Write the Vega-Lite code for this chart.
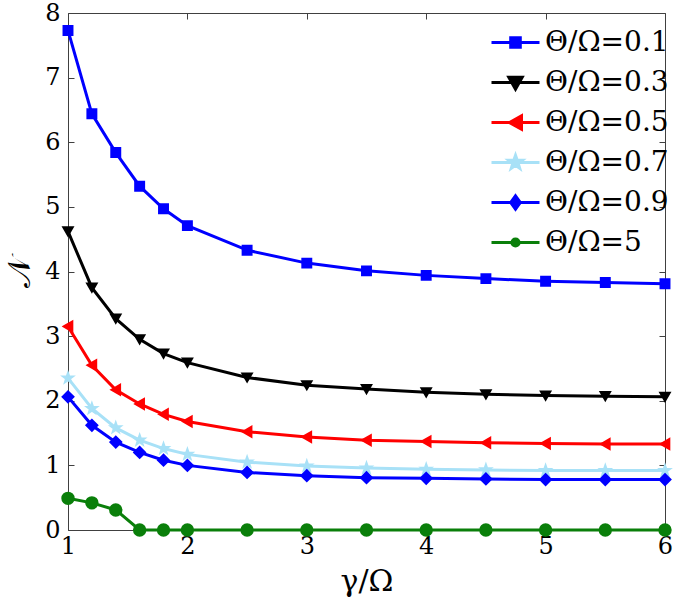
{
  "$schema": "https://vega.github.io/schema/vega-lite/v6.json",
  "width": 597,
  "height": 517,
  "autosize": "none",
  "padding": {"left": 68, "top": 13, "right": 10, "bottom": 74},
  "background": "white",
  "config": {
    "view": {"stroke": null},
    "font": "DejaVu Serif",
    "axis": {
      "domainColor": "#404040", "domainWidth": 1, "tickColor": "#404040", "tickSize": -6, "tickWidth": 1,
      "labelFont": "DejaVu Serif", "labelFontSize": 24, "labelColor": "black",
      "titleFont": "DejaVu Serif", "titleFontSize": 30, "titleColor": "black", "titleFontWeight": "normal",
      "grid": false
    },
    "legend": {
      "labelFont": "DejaVu Serif", "labelFontSize": 28, "labelColor": "black"
    }
  },
  "data": {"values": [
    {"x":1,"N":7.73,"s":"Θ/Ω=0.1"},{"x":1.2,"N":6.44,"s":"Θ/Ω=0.1"},{"x":1.4,"N":5.84,"s":"Θ/Ω=0.1"},{"x":1.6,"N":5.32,"s":"Θ/Ω=0.1"},{"x":1.8,"N":4.97,"s":"Θ/Ω=0.1"},{"x":2,"N":4.71,"s":"Θ/Ω=0.1"},{"x":2.5,"N":4.33,"s":"Θ/Ω=0.1"},{"x":3,"N":4.13,"s":"Θ/Ω=0.1"},{"x":3.5,"N":4.01,"s":"Θ/Ω=0.1"},{"x":4,"N":3.94,"s":"Θ/Ω=0.1"},{"x":4.5,"N":3.89,"s":"Θ/Ω=0.1"},{"x":5,"N":3.85,"s":"Θ/Ω=0.1"},{"x":5.5,"N":3.83,"s":"Θ/Ω=0.1"},{"x":6,"N":3.81,"s":"Θ/Ω=0.1"},
    {"x":1,"N":4.62,"s":"Θ/Ω=0.3"},{"x":1.2,"N":3.75,"s":"Θ/Ω=0.3"},{"x":1.4,"N":3.27,"s":"Θ/Ω=0.3"},{"x":1.6,"N":2.95,"s":"Θ/Ω=0.3"},{"x":1.8,"N":2.73,"s":"Θ/Ω=0.3"},{"x":2,"N":2.59,"s":"Θ/Ω=0.3"},{"x":2.5,"N":2.36,"s":"Θ/Ω=0.3"},{"x":3,"N":2.24,"s":"Θ/Ω=0.3"},{"x":3.5,"N":2.18,"s":"Θ/Ω=0.3"},{"x":4,"N":2.13,"s":"Θ/Ω=0.3"},{"x":4.5,"N":2.1,"s":"Θ/Ω=0.3"},{"x":5,"N":2.08,"s":"Θ/Ω=0.3"},{"x":5.5,"N":2.07,"s":"Θ/Ω=0.3"},{"x":6,"N":2.06,"s":"Θ/Ω=0.3"},
    {"x":1,"N":3.15,"s":"Θ/Ω=0.5"},{"x":1.2,"N":2.55,"s":"Θ/Ω=0.5"},{"x":1.4,"N":2.17,"s":"Θ/Ω=0.5"},{"x":1.6,"N":1.95,"s":"Θ/Ω=0.5"},{"x":1.8,"N":1.79,"s":"Θ/Ω=0.5"},{"x":2,"N":1.68,"s":"Θ/Ω=0.5"},{"x":2.5,"N":1.52,"s":"Θ/Ω=0.5"},{"x":3,"N":1.44,"s":"Θ/Ω=0.5"},{"x":3.5,"N":1.39,"s":"Θ/Ω=0.5"},{"x":4,"N":1.37,"s":"Θ/Ω=0.5"},{"x":4.5,"N":1.35,"s":"Θ/Ω=0.5"},{"x":5,"N":1.34,"s":"Θ/Ω=0.5"},{"x":5.5,"N":1.33,"s":"Θ/Ω=0.5"},{"x":6,"N":1.33,"s":"Θ/Ω=0.5"},
    {"x":1,"N":2.35,"s":"Θ/Ω=0.7"},{"x":1.2,"N":1.88,"s":"Θ/Ω=0.7"},{"x":1.4,"N":1.58,"s":"Θ/Ω=0.7"},{"x":1.6,"N":1.39,"s":"Θ/Ω=0.7"},{"x":1.8,"N":1.26,"s":"Θ/Ω=0.7"},{"x":2,"N":1.17,"s":"Θ/Ω=0.7"},{"x":2.5,"N":1.05,"s":"Θ/Ω=0.7"},{"x":3,"N":0.99,"s":"Θ/Ω=0.7"},{"x":3.5,"N":0.96,"s":"Θ/Ω=0.7"},{"x":4,"N":0.94,"s":"Θ/Ω=0.7"},{"x":4.5,"N":0.93,"s":"Θ/Ω=0.7"},{"x":5,"N":0.92,"s":"Θ/Ω=0.7"},{"x":5.5,"N":0.92,"s":"Θ/Ω=0.7"},{"x":6,"N":0.92,"s":"Θ/Ω=0.7"},
    {"x":1,"N":2.06,"s":"Θ/Ω=0.9"},{"x":1.2,"N":1.62,"s":"Θ/Ω=0.9"},{"x":1.4,"N":1.36,"s":"Θ/Ω=0.9"},{"x":1.6,"N":1.2,"s":"Θ/Ω=0.9"},{"x":1.8,"N":1.08,"s":"Θ/Ω=0.9"},{"x":2,"N":1.0,"s":"Θ/Ω=0.9"},{"x":2.5,"N":0.89,"s":"Θ/Ω=0.9"},{"x":3,"N":0.84,"s":"Θ/Ω=0.9"},{"x":3.5,"N":0.81,"s":"Θ/Ω=0.9"},{"x":4,"N":0.8,"s":"Θ/Ω=0.9"},{"x":4.5,"N":0.79,"s":"Θ/Ω=0.9"},{"x":5,"N":0.78,"s":"Θ/Ω=0.9"},{"x":5.5,"N":0.78,"s":"Θ/Ω=0.9"},{"x":6,"N":0.78,"s":"Θ/Ω=0.9"},
    {"x":1,"N":0.49,"s":"Θ/Ω=5"},{"x":1.2,"N":0.42,"s":"Θ/Ω=5"},{"x":1.4,"N":0.31,"s":"Θ/Ω=5"},{"x":1.6,"N":0,"s":"Θ/Ω=5"},{"x":1.8,"N":0,"s":"Θ/Ω=5"},{"x":2,"N":0,"s":"Θ/Ω=5"},{"x":2.5,"N":0,"s":"Θ/Ω=5"},{"x":3,"N":0,"s":"Θ/Ω=5"},{"x":3.5,"N":0,"s":"Θ/Ω=5"},{"x":4,"N":0,"s":"Θ/Ω=5"},{"x":4.5,"N":0,"s":"Θ/Ω=5"},{"x":5,"N":0,"s":"Θ/Ω=5"},{"x":5.5,"N":0,"s":"Θ/Ω=5"},{"x":6,"N":0,"s":"Θ/Ω=5"}
  ]},
  "resolve": {
    "axis": {"x": "independent", "y": "independent"},
    "scale": {"color": "independent", "fill": "independent", "stroke": "independent", "shape": "independent", "size": "independent", "strokeWidth": "independent"},
    "legend": {"color": "independent", "fill": "independent", "stroke": "independent", "shape": "independent"}
  },
  "layer": [
    {
      "mark": {"type": "line", "clip": false},
      "encoding": {
        "x": {"field": "x", "type": "quantitative", "scale": {"domain": [1, 6], "nice": false, "zero": false},
              "axis": {"orient": "bottom", "values": [1,2,3,4,5,6], "title": "γ/Ω", "labelPadding": 10, "titlePadding": 8, "labelFlush": false}},
        "y": {"field": "N", "type": "quantitative", "scale": {"domain": [0, 8], "nice": false},
              "axis": {"orient": "left", "values": [0,1,2,3,4,5,6,7,8], "title": "𝒩", "titleFontSize": 32, "labelPadding": 14, "titlePadding": 8, "labelFlush": false}},
        "color": {"field": "s", "type": "nominal", "legend": null,
                  "scale": {"domain": ["Θ/Ω=0.1","Θ/Ω=0.3","Θ/Ω=0.5","Θ/Ω=0.7","Θ/Ω=0.9","Θ/Ω=5"],
                            "range": ["#0000ff","#000000","#ff0000","#a8e1f7","#0000ff","#0a7f0a"]}},
        "strokeWidth": {"field": "s", "type": "nominal", "legend": null,
                  "scale": {"domain": ["Θ/Ω=0.1","Θ/Ω=0.3","Θ/Ω=0.5","Θ/Ω=0.7","Θ/Ω=0.9","Θ/Ω=5"],
                            "range": [3,3,3,3,3,2.5]}},
        "order": {"field": "x", "type": "quantitative"}
      }
    },
    {
      "mark": {"type": "point", "filled": true, "opacity": 1, "strokeWidth": 2, "clip": false},
      "encoding": {
        "x": {"field": "x", "type": "quantitative", "scale": {"domain": [1, 6], "nice": false, "zero": false}, "axis": null},
        "y": {"field": "N", "type": "quantitative", "scale": {"domain": [0, 8], "nice": false}, "axis": null},
        "fill": {"field": "s", "type": "nominal", "legend": null,
                  "scale": {"domain": ["Θ/Ω=0.1","Θ/Ω=0.3","Θ/Ω=0.5","Θ/Ω=0.7","Θ/Ω=0.9","Θ/Ω=5"],
                            "range": ["#0000ff","#000000","#ff0000","#a8e1f7","#0000ff","#0a7f0a"]}},
        "stroke": {"field": "s", "type": "nominal", "legend": null,
                  "scale": {"domain": ["Θ/Ω=0.1","Θ/Ω=0.3","Θ/Ω=0.5","Θ/Ω=0.7","Θ/Ω=0.9","Θ/Ω=5"],
                            "range": ["#0000ff","#000000","#ff0000","#a8e1f7","#0000ff","#0a7f0a"]}},
        "shape": {"field": "s", "type": "nominal", "legend": null,
                  "scale": {"domain": ["Θ/Ω=0.1","Θ/Ω=0.3","Θ/Ω=0.5","Θ/Ω=0.7","Θ/Ω=0.9","Θ/Ω=5"],
                            "range": ["square","triangle-down","triangle-left","M0,-1L0.235,-0.324L0.951,-0.309L0.38,0.124L0.588,0.809L0,0.4L-0.588,0.809L-0.38,0.124L-0.951,-0.309L-0.235,-0.324Z","diamond","circle"]}},
        "size": {"field": "s", "type": "nominal", "legend": null,
                  "scale": {"domain": ["Θ/Ω=0.1","Θ/Ω=0.3","Θ/Ω=0.5","Θ/Ω=0.7","Θ/Ω=0.9","Θ/Ω=5"],
                            "range": [80,130,130,240,110,80]}}
      }
    },
    {
      "transform": [{"filter": "false"}],
      "mark": {"type": "point", "filled": true, "strokeWidth": 3, "opacity": 1},
      "encoding": {
        "fill": {"field": "s", "type": "nominal",
                  "scale": {"domain": ["Θ/Ω=0.1","Θ/Ω=0.3","Θ/Ω=0.5","Θ/Ω=0.7","Θ/Ω=0.9","Θ/Ω=5"],
                            "range": ["#0000ff","#000000","#ff0000","#a8e1f7","#0000ff","#0a7f0a"]},
                  "legend": {"orient": "none", "legendX": 422, "legendY": 4, "title": null, "padding": 0,
                             "symbolSize": 2304, "symbolStrokeWidth": 3, "symbolOpacity": 1, "labelOffset": 4, "rowPadding": -9,
                             "labelFont": "DejaVu Serif", "labelFontSize": 28, "labelColor": "black"}},
        "stroke": {"field": "s", "type": "nominal",
                  "scale": {"domain": ["Θ/Ω=0.1","Θ/Ω=0.3","Θ/Ω=0.5","Θ/Ω=0.7","Θ/Ω=0.9","Θ/Ω=5"],
                            "range": ["#0000ff","#000000","#ff0000","#a8e1f7","#0000ff","#0a7f0a"]},
                  "legend": {"orient": "none", "legendX": 422, "legendY": 4, "title": null, "padding": 0,
                             "symbolSize": 2304, "symbolStrokeWidth": 3, "symbolOpacity": 1, "labelOffset": 4, "rowPadding": -9,
                             "labelFont": "DejaVu Serif", "labelFontSize": 28, "labelColor": "black"}},
        "shape": {"field": "s", "type": "nominal",
                  "scale": {"domain": ["Θ/Ω=0.1","Θ/Ω=0.3","Θ/Ω=0.5","Θ/Ω=0.7","Θ/Ω=0.9","Θ/Ω=5"],
                            "range": [
                              "M-1,0H1M-0.2,-0.2H0.2V0.2H-0.2Z",
                              "M-1,0H1M-0.28,-0.22L0.28,-0.22L0,0.28Z",
                              "M-1,0H1M-0.25,0L0.25,-0.28L0.25,0.28Z",
                              "M-1,0H1M0,-0.3L0.07,-0.097L0.285,-0.093L0.114,0.037L0.176,0.243L0,0.12L-0.176,0.243L-0.114,0.037L-0.285,-0.093L-0.07,-0.097Z",
                              "M-1,0H1M0,-0.28L0.2,0L0,0.28L-0.2,0Z",
                              "M-1,0H1M-0.15,0A0.15,0.15,0,1,0,0.15,0A0.15,0.15,0,1,0,-0.15,0Z"
                            ]},
                  "legend": {"orient": "none", "legendX": 422, "legendY": 4, "title": null, "padding": 0,
                             "symbolSize": 2304, "symbolStrokeWidth": 3, "symbolOpacity": 1, "labelOffset": 4, "rowPadding": -9,
                             "labelFont": "DejaVu Serif", "labelFontSize": 28, "labelColor": "black"}}
      }
    },
    {
      "mark": {"type": "point", "opacity": 0},
      "encoding": {
        "x": {"field": "x", "type": "quantitative", "scale": {"domain": [1, 6], "nice": false, "zero": false},
              "axis": {"orient": "top", "values": [1,2,3,4,5,6], "labels": false, "title": null}},
        "y": {"field": "N", "type": "quantitative", "scale": {"domain": [0, 8], "nice": false},
              "axis": {"orient": "right", "values": [0,1,2,3,4,5,6,7,8], "labels": false, "title": null}}
      }
    }
  ]
}
